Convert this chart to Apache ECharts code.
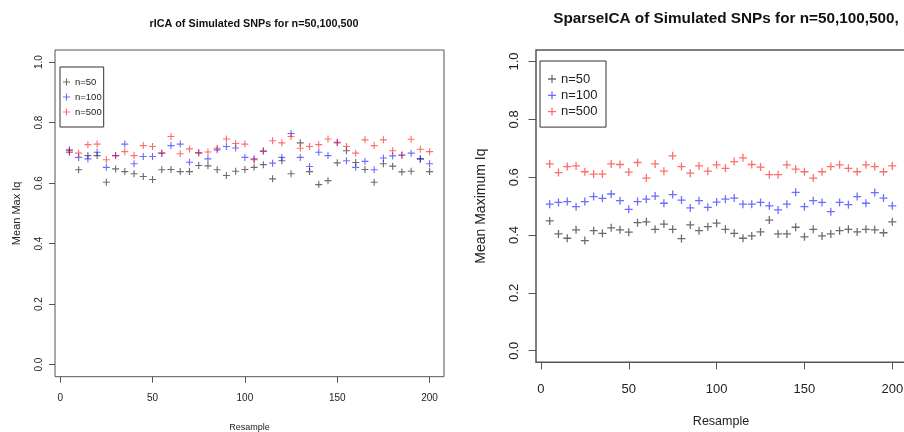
<!DOCTYPE html>
<html>
<head>
<meta charset="utf-8">
<script src="https://cdn.jsdelivr.net/npm/echarts@6/dist/echarts.min.js"></script>
<style>
  html, body { margin: 0; padding: 0; background: #ffffff; }
  #chart { width: 904px; height: 432px; }
</style>
</head>
<body>
<div id="chart"></div>
<script>
// Resample index shared by every series
const resample = [5, 10, 15, 20, 25, 30, 35, 40, 45, 50, 55, 60, 65, 70, 75, 80, 85, 90, 95, 100,
  105, 110, 115, 120, 125, 130, 135, 140, 145, 150, 155, 160, 165, 170, 175, 180, 185, 190, 195, 200];

// rICA: mean max Iq per resample
const ricaN50 = [0.702, 0.644, 0.691, 0.691, 0.603, 0.647, 0.638, 0.631, 0.622, 0.612,
  0.644, 0.645, 0.638, 0.638, 0.658, 0.657, 0.644, 0.625, 0.639, 0.645,
  0.652, 0.661, 0.614, 0.674, 0.631, 0.733, 0.638, 0.595, 0.608, 0.667,
  0.707, 0.668, 0.645, 0.603, 0.664, 0.656, 0.637, 0.639, 0.680, 0.638];
const ricaN100 = [0.710, 0.685, 0.680, 0.702, 0.652, 0.691, 0.729, 0.664, 0.688, 0.688,
  0.699, 0.724, 0.729, 0.669, 0.700, 0.680, 0.710, 0.721, 0.716, 0.685,
  0.680, 0.705, 0.666, 0.685, 0.764, 0.685, 0.655, 0.702, 0.691, 0.735,
  0.674, 0.652, 0.672, 0.644, 0.683, 0.690, 0.692, 0.699, 0.680, 0.664];
const ricaN500 = [0.707, 0.699, 0.727, 0.729, 0.677, 0.691, 0.704, 0.691, 0.724, 0.721,
  0.699, 0.754, 0.697, 0.713, 0.700, 0.703, 0.715, 0.746, 0.731, 0.729,
  0.677, 0.707, 0.740, 0.733, 0.754, 0.715, 0.721, 0.727, 0.746, 0.733,
  0.721, 0.699, 0.743, 0.724, 0.743, 0.707, 0.693, 0.745, 0.712, 0.704];

// SparseICA: mean maximum Iq per resample
const sparseN50 = [0.449, 0.404, 0.389, 0.418, 0.381, 0.415, 0.406, 0.425, 0.418, 0.410,
  0.443, 0.446, 0.420, 0.438, 0.420, 0.388, 0.435, 0.415, 0.429, 0.441,
  0.420, 0.406, 0.389, 0.397, 0.411, 0.452, 0.404, 0.404, 0.427, 0.394,
  0.420, 0.397, 0.404, 0.415, 0.420, 0.411, 0.420, 0.418, 0.408, 0.446];
const sparseN100 = [0.507, 0.513, 0.516, 0.498, 0.516, 0.533, 0.527, 0.542, 0.519, 0.489,
  0.516, 0.524, 0.535, 0.510, 0.540, 0.521, 0.494, 0.519, 0.496, 0.514,
  0.524, 0.528, 0.507, 0.507, 0.513, 0.501, 0.487, 0.507, 0.548, 0.498,
  0.519, 0.513, 0.481, 0.513, 0.505, 0.533, 0.510, 0.547, 0.528, 0.501];
const sparseN500 = [0.646, 0.616, 0.637, 0.639, 0.619, 0.611, 0.611, 0.646, 0.644, 0.618,
  0.651, 0.597, 0.646, 0.621, 0.674, 0.637, 0.614, 0.639, 0.621, 0.643,
  0.631, 0.654, 0.667, 0.644, 0.635, 0.609, 0.609, 0.643, 0.628, 0.619,
  0.597, 0.619, 0.637, 0.643, 0.631, 0.619, 0.643, 0.637, 0.619, 0.639];

const seriesNames = ['n=50', 'n=100', 'n=500'];
const xTicks = [0, 50, 100, 150, 200];
const yTicks = [0, 0.2, 0.4, 0.6, 0.8, 1.0];

const FONT = "'Liberation Sans', Arial, sans-serif";
const colors = ['rgba(0,0,0,0.72)', 'rgba(0,0,255,0.72)', 'rgba(255,0,0,0.72)'];
const plus = 'path://M0,42H100V58H0Z M42,0H58V100H42Z';

const pairs = vals => vals.map((v, i) => [resample[i], v]);

function xAxisFor(gridIndex, fontSize, margin, tickLen, nameGap, nameSize) {
  return {
    type: 'value', gridIndex: gridIndex, min: -2.8, max: 207.8,
    name: 'Resample', nameLocation: 'middle', nameGap: nameGap,
    nameTextStyle: { fontFamily: FONT, fontSize: nameSize, color: '#222' },
    axisLine: { show: false, onZero: false },
    splitLine: { show: false },
    axisTick: { show: true, inside: false, length: tickLen, customValues: xTicks,
      lineStyle: { color: '#555', width: 1 } },
    axisLabel: { customValues: xTicks, margin: margin, fontFamily: FONT,
      fontSize: fontSize, color: '#222', formatter: v => String(v) }
  };
}

function yAxisFor(gridIndex, name, fontSize, margin, tickLen, nameGap, nameSize) {
  return {
    type: 'value', gridIndex: gridIndex, min: -0.04, max: 1.04,
    name: name, nameLocation: 'middle', nameGap: nameGap,
    nameTextStyle: { fontFamily: FONT, fontSize: nameSize, color: '#222' },
    axisLine: { show: false, onZero: false },
    splitLine: { show: false },
    axisTick: { show: true, inside: false, length: tickLen, customValues: yTicks,
      lineStyle: { color: '#555', width: 1 } },
    axisLabel: { customValues: yTicks, rotate: 90, margin: margin, fontFamily: FONT,
      fontSize: fontSize, color: '#222', formatter: v => v.toFixed(1) }
  };
}

function scatter(name, vals, idx, color, size) {
  return {
    type: 'scatter', name: name, xAxisIndex: idx, yAxisIndex: idx,
    data: pairs(vals), symbol: plus, symbolSize: size,
    itemStyle: { color: color }, emphasis: { disabled: true }, silent: true
  };
}

function legendFor(left, top, padding, gap, size, fontSize, lineHeight) {
  return {
    data: seriesNames, orient: 'vertical', left: left, top: top,
    padding: padding, itemGap: gap, itemWidth: size, itemHeight: size,
    icon: plus, selectedMode: false, backgroundColor: '#ffffff',
    borderColor: '#333', borderWidth: 1,
    textStyle: { fontFamily: FONT, fontSize: fontSize, lineHeight: lineHeight, color: '#222' }
  };
}

const chart = echarts.init(document.getElementById('chart'), null, { renderer: 'canvas' });
chart.setOption({
  animation: false,
  backgroundColor: '#ffffff',
  title: [
    { text: 'rICA of Simulated SNPs for n=50,100,500', left: 249, top: 14, textAlign: 'center',
      textStyle: { fontFamily: FONT, fontSize: 10.8, fontWeight: 'bold', color: '#111' } },
    { text: 'SparseICA of Simulated SNPs for n=50,100,500,', left: 721, top: 6.5, textAlign: 'center',
      textStyle: { fontFamily: FONT, fontSize: 15.3, fontWeight: 'bold', color: '#111' } }
  ],
  grid: [
    { left: 55, right: 460, top: 50, bottom: 55.3, show: true, outerBoundsMode: 'none',
      containLabel: false, borderColor: '#555', borderWidth: 1, backgroundColor: 'transparent' },
    { left: 536, right: -2, top: 50, bottom: 69.7, show: true, outerBoundsMode: 'none',
      containLabel: false, borderColor: '#555', borderWidth: 1.5, backgroundColor: 'transparent' }
  ],
  xAxis: [
    xAxisFor(0, 10, 17, 6, 46, 9),
    xAxisFor(1, 13, 21, 7, 53, 12.5)
  ],
  yAxis: [
    yAxisFor(0, 'Mean Max Iq', 10, 11, 6, 32.5, 11),
    yAxisFor(1, 'Mean Maximum Iq', 13, 15, 7.5, 48, 14)
  ],
  legend: [
    legendFor(60, 67, [9, 2, 9, 3], 3, 7, 9.5, 12),
    legendFor(540, 61, [10, 8.5, 7.5, 8], 0.3, 8, 13, 16)
  ],
  series: [
    scatter('n=50', ricaN50, 0, colors[0], 7),
    scatter('n=100', ricaN100, 0, colors[1], 7),
    scatter('n=500', ricaN500, 0, colors[2], 7),
    scatter('n=50', sparseN50, 1, colors[0], 8),
    scatter('n=100', sparseN100, 1, colors[1], 8),
    scatter('n=500', sparseN500, 1, colors[2], 8)
  ]
});
</script>
</body>
</html>
